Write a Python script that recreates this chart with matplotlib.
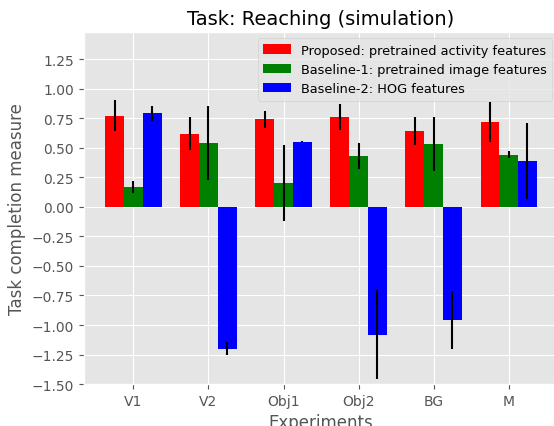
import numpy as np
import matplotlib
matplotlib.use("Agg")
import matplotlib.pyplot as plt

plt.style.use("ggplot")

experiments = ["V1", "V2", "Obj1", "Obj2", "BG", "M"]

proposed_mean = [0.77, 0.62, 0.74, 0.76, 0.64, 0.72]
proposed_err = [0.13, 0.14, 0.07, 0.11, 0.12, 0.17]

baseline1_mean = [0.17, 0.54, 0.20, 0.43, 0.53, 0.44]
baseline1_err = [0.05, 0.31, 0.32, 0.11, 0.23, 0.03]

baseline2_mean = [0.79, -1.20, 0.55, -1.08, -0.96, 0.39]
baseline2_err = [0.06, 0.055, 0.005, 0.38, 0.245, 0.32]

labels = ["Proposed: pretrained activity features",
          "Baseline-1: pretrained image features",
          "Baseline-2: HOG features"]

fig = plt.figure(figsize=(5.54, 4.27), dpi=100)
# right edge of the axes runs slightly past the image, as in the reference crop
ax = fig.add_axes([0.151, 0.098, 0.857, 0.825])

x = np.arange(len(experiments))
w = 0.25
ax.bar(x - w, proposed_mean, w, yerr=proposed_err, color="red", ecolor="black", label=labels[0])
ax.bar(x, baseline1_mean, w, yerr=baseline1_err, color="green", ecolor="black", label=labels[1])
ax.bar(x + w, baseline2_mean, w, yerr=baseline2_err, color="blue", ecolor="black", label=labels[2])

ax.set_xticks(x)
ax.set_xticklabels(experiments)
ax.set_ylim(-1.5, 1.48)
ax.set_yticks(np.arange(-1.5, 1.3, 0.25))
ax.set_xlabel("Experiments")
ax.set_ylabel("Task completion measure")
ax.set_title("Task: Reaching (simulation)", fontsize=14)
ax.legend(loc="upper right", fontsize=9.3, handlelength=2.15)

fig.savefig("out.png", dpi=100)
